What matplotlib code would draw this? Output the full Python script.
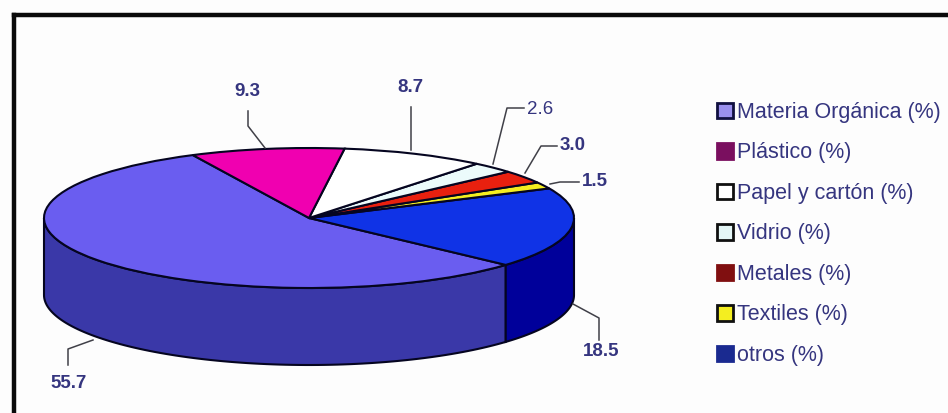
import numpy as np
import matplotlib
matplotlib.use('Agg')
import matplotlib.pyplot as plt
from matplotlib.patches import Patch

plt.rcParams['font.family'] = ['Liberation Sans', 'DejaVu Sans']

# slices in the order they go round the pie
names = ['Materia Orgánica (%)', 'otros (%)', 'Textiles (%)', 'Metales (%)',
         'Vidrio (%)', 'Papel y cartón (%)', 'Plástico (%)']
values = [55.7, 18.5, 1.5, 3.0, 2.6, 8.7, 9.3]
top_colors = ['#6a5df0', '#1033e6', '#f4ee20', '#e8200f', '#ecfbfb', '#ffffff', '#f000b0']
side_colors = ['#3a38a8', '#00009a', '#a0a000', '#800000', '#80a0a0', '#808080', '#800060']

# legend runs in this order
legend_names = ['Materia Orgánica (%)', 'Plástico (%)', 'Papel y cartón (%)', 'Vidrio (%)',
                'Metales (%)', 'Textiles (%)', 'otros (%)']
legend_fill = ['#9a90ee', '#7a0f5f', '#ffffff', '#e4f6f6', '#800f10', '#f4ee20', '#1a2a90']
legend_edge = ['#101040', '#7a0f5f', '#101010', '#101010', '#800f10', '#101010', '#1a2a90']

label_text = ['9.3', '8.7', '2.6', '3.0', '1.5', '18.5', '55.7']
label_bold = ['bold', 'bold', 'normal', 'bold', 'bold', 'bold', 'bold']
label_x = [247, 410, 540, 573, 595, 601, 69]
label_y = [92, 87, 109, 145, 182, 352, 383]
leaders = [
    [(248, 111), (248, 126), (265, 148)],
    [(411, 107), (411, 150)],
    [(524, 108), (507, 108), (493, 164)],
    [(557, 146), (541, 146), (525, 173)],
    [(579, 182), (560, 182), (550, 184)],
    [(573, 304), (599, 318), (599, 340)],
    [(93, 340), (68, 349), (68, 365)],
]

W, H = 948, 413
cx, cy, a, b = 309, 218, 265, 70
depth = 77 / b
start = 116
text_col = '#35357f'

fig = plt.figure(figsize=(W / 100, H / 100), dpi=100, facecolor='#fdfdfd')

# pie axes: unit circle squashed to an ellipse by the limits
ax = fig.add_axes([0, 0, 1, 1])
edges = start + np.cumsum([0] + values) / sum(values) * 360
for i in range(len(values)):
    # only the part of a slice in the lower half shows its side
    lo = edges[i]
    hi = edges[i + 1]
    for k in range(0, 2):
        l2 = max(lo, 180 + 360 * k)
        h2 = min(hi, 360 + 360 * k)
        if h2 > l2:
            t = np.radians(np.linspace(l2, h2, 100))
            xs = np.concatenate((np.cos(t), np.cos(t[::-1])))
            ys = np.concatenate((np.sin(t), np.sin(t[::-1]) - depth))
            ax.fill(xs, ys, facecolor=side_colors[i], edgecolor='#050520', linewidth=1.5, zorder=1)

wedges, _ = ax.pie(values, startangle=start, colors=top_colors, radius=1,
                   wedgeprops={'edgecolor': '#050520', 'linewidth': 1.5})
for w in wedges:
    w.set_zorder(2)
ax.set_xlim(-cx / a, (W - cx) / a)
ax.set_ylim((cy - H) / b, cy / b)
ax.set_aspect('auto')
ax.axis('off')

# overlay in pixel coordinates for frame, labels and legend
ov = fig.add_axes([0, 0, 1, 1], facecolor='none')
ov.set_xlim(0, W)
ov.set_ylim(H, 0)
ov.axis('off')
ov.plot([14.5, 14.5], [H, 15], color='#0a0a0a', lw=3.2, solid_capstyle='projecting')
ov.plot([14.5, W], [15, 15], color='#0a0a0a', lw=3.2, solid_capstyle='projecting')

for pts in leaders:
    ov.plot([p[0] for p in pts], [p[1] for p in pts], color='#404048', lw=1.1)
for x, y, s, wgt in zip(label_x, label_y, label_text, label_bold):
    ov.text(x, y, s, color=text_col, fontsize=13.5, fontweight=wgt, ha='center', va='center')

handles = [Patch(facecolor=f, edgecolor=e, linewidth=2) for f, e in zip(legend_fill, legend_edge)]
ov.legend(handles, legend_names, loc='upper left', bbox_to_anchor=(717 / W, 1 - 102 / H),
          frameon=False, fontsize=15.5, labelcolor=text_col, handlelength=0.74, handleheight=0.74,
          handletextpad=0.19, labelspacing=0.905, borderpad=0, borderaxespad=0)

fig.savefig('out.png', dpi=100, facecolor=fig.get_facecolor())
